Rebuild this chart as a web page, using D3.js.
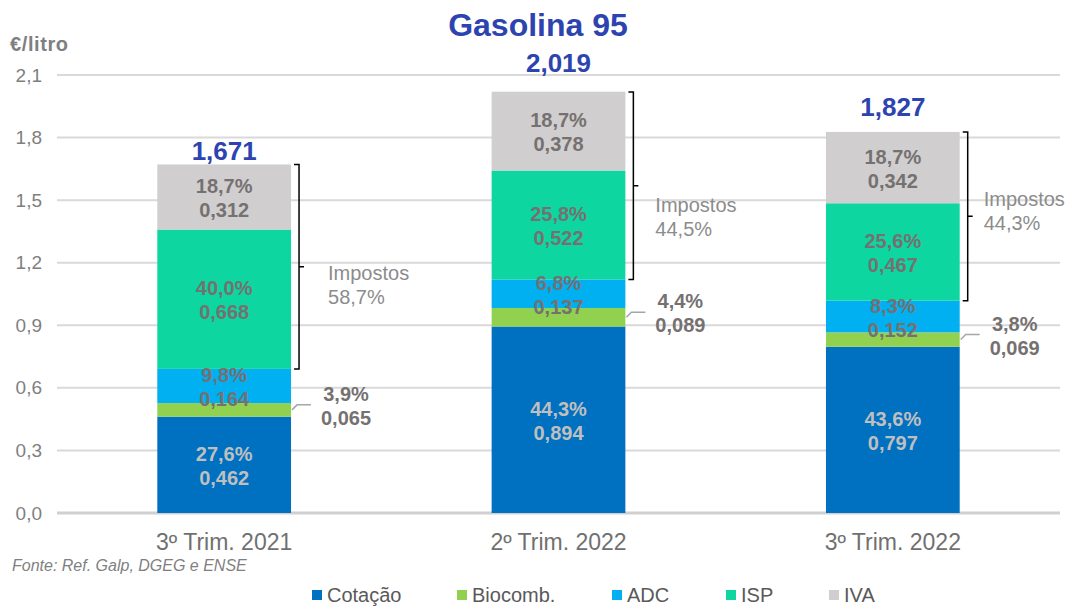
<!DOCTYPE html>
<html>
<head>
<meta charset="utf-8">
<script src="https://cdn.jsdelivr.net/npm/d3@7"></script>
<style>
  body { margin: 0; background: #fff; }
  svg { display: block; font-family: Arial, "Liberation Sans", sans-serif; }
</style>
</head>
<body>
<svg id="chart" width="1075" height="606"></svg>
<script>
// data
const categories = ["3º Trim. 2021", "2º Trim. 2022", "3º Trim. 2022"];
const keys = ["Cotação", "Biocomb.", "ADC", "ISP", "IVA"];
const cotacao = [0.462, 0.894, 0.797];
const biocomb = [0.065, 0.089, 0.069];
const adc = [0.164, 0.137, 0.152];
const isp = [0.668, 0.522, 0.467];
const iva = [0.312, 0.378, 0.342];
const cotacaoPct = [27.6, 44.3, 43.6];
const biocombPct = [3.9, 4.4, 3.8];
const adcPct = [9.8, 6.8, 8.3];
const ispPct = [40.0, 25.8, 25.6];
const ivaPct = [18.7, 18.7, 18.7];
const totals = [1.671, 2.019, 1.827];
const impostosPct = [58.7, 44.5, 44.3];
const yTicks = [0, 0.3, 0.6, 0.9, 1.2, 1.5, 1.8, 2.1];

const colors = ["#0070C0", "#92D050", "#00B0F0", "#0DD6A0", "#D0CECE"];

// label placement tweaks (px) per bar
const totalDy = [-14, -29, -25];
const impDx = [37, 30, 24];
const impDy = [6, 19, -17];

const loc = d3.formatLocale({decimal: ",", thousands: ".", grouping: [3], currency: ["", "€"]});
const f1 = loc.format(".1f");
const f3 = loc.format(".3f");

const rows = categories.map((c, i) => ({
  cat: c,
  "Cotação": cotacao[i], "Biocomb.": biocomb[i], "ADC": adc[i], "ISP": isp[i], "IVA": iva[i],
  pct: {"Cotação": cotacaoPct[i], "Biocomb.": biocombPct[i], "ADC": adcPct[i], "ISP": ispPct[i], "IVA": ivaPct[i]},
  i: i
}));

const svg = d3.select("#chart");

const x = d3.scaleBand().domain(categories).range([57, 1060]).paddingInner(0.6).paddingOuter(0.3);
const y = d3.scaleLinear().domain([0, 2.1]).range([513, 75]);

// grid
svg.append("g").selectAll("line").data(yTicks).join("line")
  .attr("x1", 57).attr("x2", 1060)
  .attr("y1", d => y(d)).attr("y2", d => y(d))
  .attr("stroke", d => d === 0 ? "#D0D0D0" : "#D9D9D9")
  .attr("stroke-width", d => d === 0 ? 3 : 2);

// y axis labels
const yAxis = svg.append("g").attr("transform", "translate(42,0)")
  .call(d3.axisLeft(y).tickValues(yTicks).tickFormat(f1).tickSize(0).tickPadding(0));
yAxis.select(".domain").remove();
yAxis.selectAll("text").attr("font-size", 19).attr("fill", "#7F7F7F").attr("font-family", "Arial, 'Liberation Sans', sans-serif");

svg.append("text").attr("x", 10).attr("y", 51).text("€/litro")
  .attr("font-size", 20).attr("font-weight", "bold").attr("fill", "#7F7F7F")
  .attr("letter-spacing", 0.6);

// title
svg.append("text").attr("x", 538).attr("y", 36).attr("text-anchor", "middle")
  .text("Gasolina 95").attr("font-size", 32).attr("font-weight", "bold").attr("fill", "#2D44B0");

// stacked bars
const series = d3.stack().keys(keys)(rows);
const layer = svg.append("g").selectAll("g").data(series).join("g")
  .attr("fill", (d, k) => colors[k]);
layer.selectAll("rect").data(d => d).join("rect")
  .attr("x", d => x(d.data.cat))
  .attr("width", x.bandwidth())
  .attr("y", d => y(d[1]))
  .attr("height", d => y(d[0]) - y(d[1]));

// segment labels
const labG = svg.append("g").attr("font-weight", "bold").attr("font-size", 20).attr("text-anchor", "middle");
series.forEach(s => {
  s.forEach(d => {
    const mid = (y(d[0]) + y(d[1])) / 2;
    const key = s.key;
    const pct = d.data.pct[key];
    const val = d.data[key];
    if (key === "Biocomb.") {
      const r = x(d.data.cat) + x.bandwidth();
      svg.append("path")
        .attr("d", `M${r + 1},${mid} L${r + 6},${mid - 5} L${r + 20},${mid - 5}`)
        .attr("fill", "none").attr("stroke", "#A6A6A6").attr("stroke-width", 1.5);
      labG.append("text").attr("x", r + 55).attr("y", mid - 16).attr("dy", "0.35em")
        .attr("fill", "#767171").text(f1(pct) + "%");
      labG.append("text").attr("x", r + 55).attr("y", mid + 8).attr("dy", "0.35em")
        .attr("fill", "#767171").text(f3(val));
    } else {
      const c = x(d.data.cat) + x.bandwidth() / 2;
      const fill = key === "Cotação" ? "#BFBFBF" : "#767171";
      labG.append("text").attr("x", c).attr("y", mid - 11).attr("dy", "0.35em")
        .attr("fill", fill).text(f1(pct) + "%");
      labG.append("text").attr("x", c).attr("y", mid + 13).attr("dy", "0.35em")
        .attr("fill", fill).text(f3(val));
    }
  });
});

// totals
svg.append("g").selectAll("text").data(rows).join("text")
  .attr("x", d => x(d.cat) + x.bandwidth() / 2)
  .attr("y", d => y(totals[d.i]) + totalDy[d.i])
  .attr("dy", "0.35em")
  .attr("text-anchor", "middle").attr("font-size", 26).attr("font-weight", "bold")
  .attr("fill", "#2D44B0")
  .text(d => f3(totals[d.i]));

// tax brackets
rows.forEach(d => {
  const r = x(d.cat) + x.bandwidth();
  const top = y(totals[d.i]);
  const bot = y(d["Cotação"] + d["Biocomb."] + d["ADC"]);
  const mid = (top + bot) / 2;
  const xv = r + 8;
  svg.append("path")
    .attr("d", `M${r + 3},${top} H${xv} V${bot} H${r + 3} M${xv},${mid} H${xv + 5}`)
    .attr("fill", "none").attr("stroke", "#000").attr("stroke-width", 1.5);
  const tx = r + impDx[d.i];
  svg.append("text").attr("x", tx).attr("y", mid + impDy[d.i]).attr("dy", "0.35em")
    .attr("font-size", 20).attr("fill", "#8C8C8C").text("Impostos");
  svg.append("text").attr("x", tx).attr("y", mid + impDy[d.i] + 24).attr("dy", "0.35em")
    .attr("font-size", 20).attr("fill", "#8C8C8C").text(f1(impostosPct[d.i]) + "%");
});

// x axis labels
const xAxis = svg.append("g").attr("transform", "translate(0,533)")
  .call(d3.axisBottom(x).tickSize(0).tickPadding(0));
xAxis.select(".domain").remove();
xAxis.selectAll("text").attr("font-size", 23).attr("fill", "#707070")
  .attr("font-family", "Arial, 'Liberation Sans', sans-serif").attr("dy", "0.75em");

// source
svg.append("text").attr("x", 12).attr("y", 571).text("Fonte: Ref. Galp, DGEG e ENSE")
  .attr("font-size", 16).attr("font-style", "italic").attr("fill", "#7F7F7F");

// legend
const legX = [312, 457, 612, 726, 829];
const leg = svg.append("g").selectAll("g").data(keys).join("g")
  .attr("transform", (d, k) => `translate(${legX[k]},595)`);
leg.append("rect").attr("x", 0).attr("y", -5).attr("width", 10).attr("height", 10)
  .attr("fill", (d, k) => colors[k]);
leg.append("text").attr("x", 15).attr("dy", "0.35em").attr("font-size", 20)
  .attr("fill", "#595959").text(d => d);
</script>
</body>
</html>
